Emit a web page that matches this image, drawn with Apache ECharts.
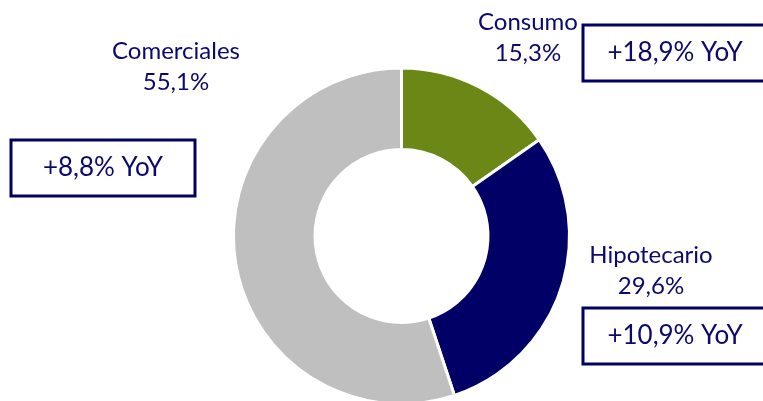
<!DOCTYPE html>
<html>
<head>
<meta charset="utf-8">
<script src="https://cdn.jsdelivr.net/npm/echarts@6/dist/echarts.min.js"></script>
<style>
html,body{margin:0;padding:0;background:#fff;}
#chart{width:763px;height:401px;}
</style>
</head>
<body>
<div id="chart"></div>
<script>
const categories = ['Consumo', 'Hipotecario', 'Comerciales'];
const shares = [15.3, 29.6, 55.1];
const yoyLabels = ['+18,9% YoY', '+10,9% YoY', '+8,8% YoY'];
const colors = ['#6B8715', '#000066', '#BFBFBF'];

const textColor = '#0a0a6e';
const font = 'Lato, "Open Sans", sans-serif';

// label anchor positions (layout only)
const labelPos = [[528, 38], [651, 271], [176, 66.5]];
// YoY boxes (layout only): x, y, w, h
const boxes = [[583, 25, 184, 56], [583, 308, 184, 56], [11, 140, 184, 56]];

const chart = echarts.init(document.getElementById('chart'), null, {renderer: 'canvas'});

const graphics = [];
boxes.forEach((b, i) => {
  graphics.push({
    type: 'rect',
    shape: {x: b[0], y: b[1], width: b[2], height: b[3]},
    style: {fill: '#fff', stroke: '#000066', lineWidth: 3},
    z: 10
  });
  graphics.push({
    type: 'text',
    x: b[0] + b[2] / 2,
    y: b[1] + b[3] / 2,
    style: {
      text: yoyLabels[i],
      fill: textColor,
      font: '26px ' + font,
      align: 'center',
      verticalAlign: 'middle'
    },
    z: 11
  });
});

chart.setOption({
  animation: false,
  backgroundColor: '#fff',
  graphic: graphics,
  series: [{
    type: 'pie',
    center: [401.5, 236],
    radius: [86.5, 168],
    startAngle: 90,
    clockwise: true,
    avoidLabelOverlap: false,
    itemStyle: {borderColor: '#fff', borderWidth: 3},
    label: {
      show: true,
      color: textColor,
      fontFamily: font,
      fontSize: 24,
      lineHeight: 31,
      align: 'center',
      formatter: p => p.name + '\n' + p.value.toFixed(1).replace('.', ',') + '%'
    },
    labelLine: {show: false},
    labelLayout: p => ({
      x: labelPos[p.dataIndex][0],
      y: labelPos[p.dataIndex][1],
      align: 'center',
      verticalAlign: 'middle'
    }),
    data: categories.map((c, i) => ({
      name: c,
      value: shares[i],
      itemStyle: {color: colors[i]}
    }))
  }]
});
</script>
</body>
</html>
